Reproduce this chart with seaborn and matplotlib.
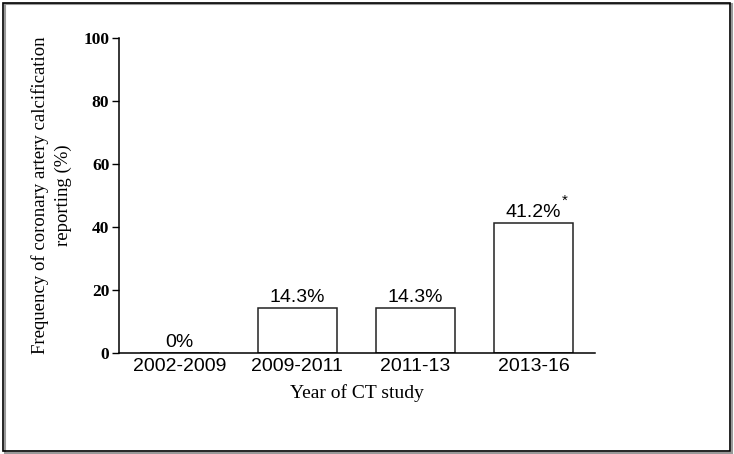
import matplotlib
matplotlib.use("Agg")
import matplotlib.pyplot as plt
import seaborn as sns
import pandas as pd
from matplotlib.patches import Rectangle

categories = ["2002-2009", "2009-2011", "2011-13", "2013-16"]
values = [0.0, 14.3, 14.3, 41.2]
labels = ["0%", "14.3%", "14.3%", "41.2%"]
significant = [False, False, False, True]
yticks = [0, 20, 40, 60, 80, 100]

df = pd.DataFrame({"period": categories, "freq": values})

sns.set_theme(style="white")
plt.rcParams["font.family"] = ["Liberation Sans", "DejaVu Sans"]

fig = plt.figure(figsize=(7.34, 4.54), dpi=100)
ax = fig.add_axes([0.1621, 0.2214, 0.8100 - 0.1621, 0.9170 - 0.2214])

sns.barplot(data=df, x="period", y="freq", ax=ax, color="white",
            edgecolor="#222222", linewidth=1.1, width=0.668, saturation=1)

ax.set_xlim(-0.51, 3.515)
ax.set_ylim(0, 100)
ax.set_yticks(yticks)
ax.set_yticklabels([str(t) for t in yticks], family="Liberation Serif",
                   fontweight="bold", fontsize=12.5)
ax.tick_params(axis="y", direction="out", length=5, width=1, pad=2, left=True, colors="black")
ax.tick_params(axis="x", length=0, pad=3, labelsize=14, colors="black")

for s in ["top", "right"]:
    ax.spines[s].set_visible(False)
for s in ["left", "bottom"]:
    ax.spines[s].set_color("black")
    ax.spines[s].set_linewidth(1.1)

ax.set_xlabel("Year of CT study", family="Liberation Serif", fontsize=14,
              labelpad=7, color="black")
ax.set_ylabel("Frequency of coronary artery calcification\nreporting (%)",
              family="Liberation Serif", fontsize=13.5, labelpad=8,
              linespacing=1.45, color="black")

for i, (v, lab, sig) in enumerate(zip(values, labels, significant)):
    ax.annotate(lab, (i, v), xytext=(0, 1.5), textcoords="offset points",
                ha="center", va="bottom", fontsize=14, color="black")
    if sig:
        ax.annotate("*", (i, v), xytext=(22, 11), textcoords="offset points",
                    ha="center", va="bottom", fontsize=11, color="black")

# figure frame with light shadow
fig.patches.append(Rectangle((5 / 734, 1 - 453 / 454), 727 / 734, 449 / 454,
                             transform=fig.transFigure, fill=False,
                             edgecolor="#999999", linewidth=1.5))
fig.patches.append(Rectangle((3 / 734, 1 - 451 / 454), 727 / 734, 448 / 454,
                             transform=fig.transFigure, fill=False,
                             edgecolor="black", linewidth=1.2))

fig.savefig("out.png", dpi=100)
